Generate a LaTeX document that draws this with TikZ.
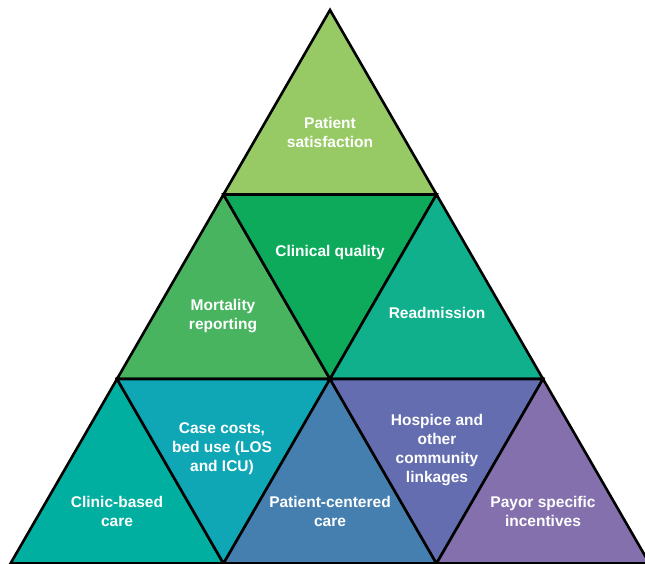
\documentclass[tikz,border=0pt]{standalone}
\usepackage{fontspec}
\setmainfont{Liberation Sans}
\definecolor{satgreen}{HTML}{97CA65}
\definecolor{qualgreen}{HTML}{0DAA5C}
\definecolor{mortgreen}{HTML}{48B460}
\definecolor{readmteal}{HTML}{10B08C}
\definecolor{clinicteal}{HTML}{00AFA0}
\definecolor{costcyan}{HTML}{0FA6B6}
\definecolor{pccblue}{HTML}{457FB0}
\definecolor{hospviolet}{HTML}{636DB0}
\definecolor{payorpurple}{HTML}{8570AE}
\begin{document}
\begin{tikzpicture}[x=1pt,y=-1pt,
	cell/.style={draw=black,line width=2.6pt,line join=miter},
	lbl/.style={text=white,align=center,inner sep=0,
	font=\fontsize{15.5}{19}\selectfont\bfseries}]
\useasboundingbox (0,0) rectangle (645,564);
% lattice points, one row per level
\coordinate (t) at (330,10);
\coordinate (a1) at (223.5,194.5);
\coordinate (a2) at (436.5,194.5);
\coordinate (b1) at (117,379);
\coordinate (b2) at (330,379);
\coordinate (b3) at (543,379);
\coordinate (c1) at (10.5,563.5);
\coordinate (c2) at (223.5,563.5);
\coordinate (c3) at (436.5,563.5);
\coordinate (c4) at (649.5,563.5);
% top
\filldraw[cell,fill=satgreen] (t) -- (a1) -- (a2) -- cycle;
% middle row
\filldraw[cell,fill=mortgreen] (a1) -- (b1) -- (b2) -- cycle;
\filldraw[cell,fill=qualgreen] (a1) -- (a2) -- (b2) -- cycle;
\filldraw[cell,fill=readmteal] (a2) -- (b2) -- (b3) -- cycle;
% bottom row
\filldraw[cell,fill=clinicteal] (b1) -- (c1) -- (c2) -- cycle;
\filldraw[cell,fill=costcyan] (b1) -- (b2) -- (c2) -- cycle;
\filldraw[cell,fill=pccblue] (b2) -- (c2) -- (c3) -- cycle;
\filldraw[cell,fill=hospviolet] (b2) -- (b3) -- (c3) -- cycle;
\filldraw[cell,fill=payorpurple] (b3) -- (c3) -- (c4) -- cycle;
% labels
\node[lbl] (sat) at (330,132) {Patient\\satisfaction};
\node[lbl] (qual) at (330,252) {Clinical quality};
\node[lbl] (mort) at (223,316) {Mortality\\reporting};
\node[lbl] (readm) at (437,313) {Readmission};
\node[lbl] (clinic) at (117,511) {Clinic-based\\care};
\node[lbl] (cost) at (222,449) {Case costs,\\bed use (LOS\\and ICU)};
\node[lbl] (pcc) at (330,511) {Patient-centered\\care};
\node[lbl] (hosp) at (437,450) {Hospice and\\other\\community\\linkages};
\node[lbl] (payor) at (543,511) {Payor specific\\incentives};
\end{tikzpicture}
\end{document}
